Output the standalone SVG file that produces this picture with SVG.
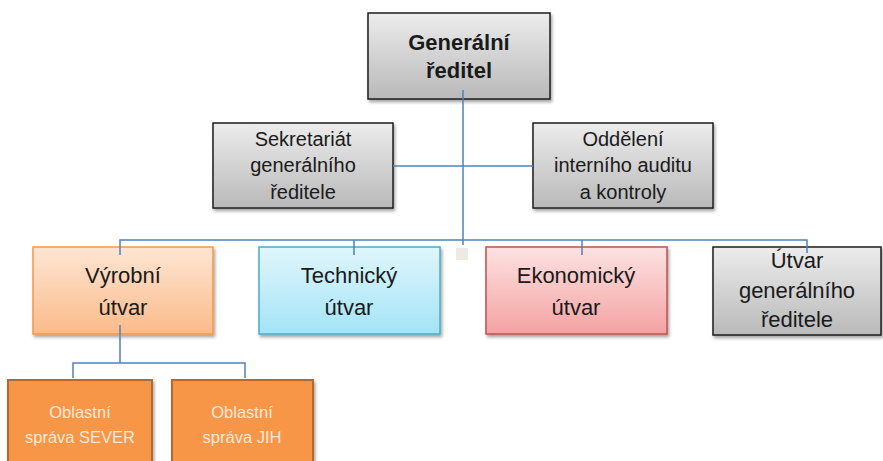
<svg xmlns="http://www.w3.org/2000/svg" width="883" height="461" viewBox="0 0 883 461">
<defs>
<linearGradient id="gGray" x1="0" y1="0" x2="0" y2="1"><stop offset="0" stop-color="#ececec"/><stop offset="1" stop-color="#b9b9b9"/></linearGradient>
<linearGradient id="gOrange" x1="0" y1="0" x2="0" y2="1"><stop offset="0" stop-color="#fde6d4"/><stop offset="1" stop-color="#fbbb8a"/></linearGradient>
<linearGradient id="gBlue" x1="0" y1="0" x2="0" y2="1"><stop offset="0" stop-color="#e0f6fc"/><stop offset="1" stop-color="#a3e4f6"/></linearGradient>
<linearGradient id="gRed" x1="0" y1="0" x2="0" y2="1"><stop offset="0" stop-color="#fde2e2"/><stop offset="1" stop-color="#f4a2a2"/></linearGradient>
<filter id="sh" x="-10%" y="-10%" width="125%" height="130%"><feDropShadow dx="1.5" dy="2.5" stdDeviation="1.5" flood-color="#000" flood-opacity="0.35"/></filter>
</defs>
<style>
text{font-family:"Liberation Sans",Arial,sans-serif;text-anchor:middle;fill:#1a1a1a}
.gray{fill:url(#gGray);stroke:#1e1e1e;stroke-width:1.5;filter:url(#sh)}
.org{fill:url(#gOrange);stroke:#f79646;stroke-width:1.5;filter:url(#sh)}
.blu{fill:url(#gBlue);stroke:#4bacc6;stroke-width:1.5;filter:url(#sh)}
.red{fill:url(#gRed);stroke:#c0504d;stroke-width:1.5;filter:url(#sh)}
.dark{fill:#f79646;stroke:#b7672b;stroke-width:2;filter:url(#sh)}
.t22{font-size:22px}
.t20{font-size:20px}
.t16{font-size:16.5px;fill:#fde9d9}
.conn{fill:none;stroke:#4f81bd;stroke-width:1.5}
</style>
<rect x="456" y="248" width="12" height="12" fill="#eceae2"/>
<g id="n-gr">
<rect class="gray" x="368" y="13" width="182" height="86"/>
<text x="459" y="50" style="font-size:22px;font-weight:bold">Generální</text>
<text x="459" y="78" style="font-size:22px;font-weight:bold">ředitel</text>
</g>
<g id="n-sek">
<rect class="gray" x="213" y="123" width="180" height="85"/>
<text class="t20" x="303" y="146">Sekretariát</text>
<text class="t20" x="303" y="172">generálního</text>
<text class="t20" x="303" y="199">ředitele</text>
</g>
<g id="n-odd">
<rect class="gray" x="533" y="123" width="180" height="85"/>
<text class="t20" x="623" y="146">Oddělení</text>
<text class="t20" x="623" y="172">interního auditu</text>
<text class="t20" x="623" y="199">a kontroly</text>
</g>
<g id="n-vyr">
<rect class="org" x="33" y="247" width="180" height="87"/>
<text class="t22" x="123" y="283">Výrobní</text>
<text class="t22" x="123" y="315">útvar</text>
</g>
<g id="n-tech">
<rect class="blu" x="259" y="247" width="181" height="87"/>
<text class="t22" x="349" y="283">Technický</text>
<text class="t22" x="349" y="315">útvar</text>
</g>
<g id="n-eko">
<rect class="red" x="486" y="247" width="181" height="87"/>
<text class="t22" x="576" y="283">Ekonomický</text>
<text class="t22" x="576" y="315">útvar</text>
</g>
<g id="n-utv">
<rect class="gray" x="713" y="247" width="168" height="88"/>
<text class="t22" x="797" y="268">Útvar</text>
<text class="t22" x="797" y="298">generálního</text>
<text class="t22" x="797" y="327">ředitele</text>
</g>
<g id="n-sever">
<rect class="dark" x="8" y="380" width="144" height="90"/>
<text class="t16" x="80" y="418">Oblastní</text>
<text class="t16" x="80" y="443">správa SEVER</text>
</g>
<g id="n-jih">
<rect class="dark" x="172" y="380" width="141" height="90"/>
<text class="t16" x="242" y="418">Oblastní</text>
<text class="t16" x="242" y="443">správa JIH</text>
</g>
<g id="connectors">
<path class="conn" d="M463 90 V245"/>
<path class="conn" d="M393 166 H533"/>
<path class="conn" d="M120 255 V240 H807 V253"/>
<path class="conn" d="M354 240 V255"/>
<path class="conn" d="M582 240 V255"/>
<path class="conn" d="M120 325 V363"/>
<path class="conn" d="M73 378 V363 H245 V378"/>
</g>
</svg>
